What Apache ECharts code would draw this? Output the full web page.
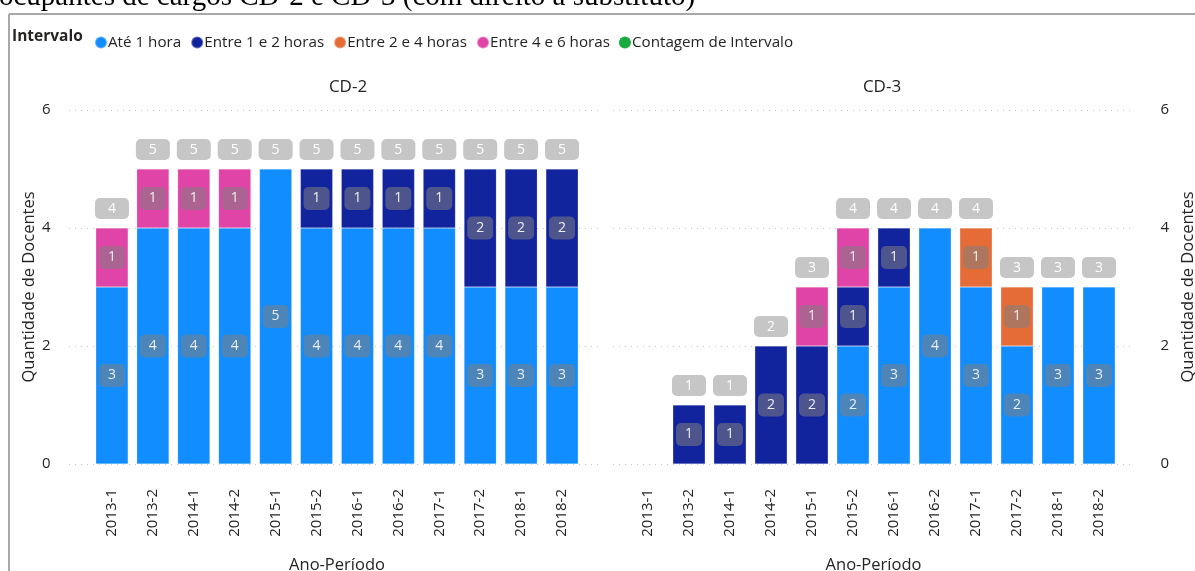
<!DOCTYPE html>
<html>
<head>
<meta charset="utf-8">
<script src="https://cdn.jsdelivr.net/npm/echarts@6/dist/echarts.min.js"></script>
<style>
html, body { margin: 0; padding: 0; background: #fff; }
#chart { width: 1195px; height: 571px; }
</style>
</head>
<body>
<div id="chart"></div>
<script>
// categories shared by both panels
let periods = ['2013-1', '2013-2', '2014-1', '2014-2', '2015-1', '2015-2', '2016-1', '2016-2', '2017-1', '2017-2', '2018-1', '2018-2'];
let intervalNames = ['Até 1 hora', 'Entre 1 e 2 horas', 'Entre 2 e 4 horas', 'Entre 4 e 6 horas'];
let totalName = 'Contagem de Intervalo';

// CD-2
let cd2Ate1 = [3, 4, 4, 4, 5, 4, 4, 4, 4, 3, 3, 3];
let cd2Entre1e2 = [0, 0, 0, 0, 0, 1, 1, 1, 1, 2, 2, 2];
let cd2Entre2e4 = [0, 0, 0, 0, 0, 0, 0, 0, 0, 0, 0, 0];
let cd2Entre4e6 = [1, 1, 1, 1, 0, 0, 0, 0, 0, 0, 0, 0];
let cd2Contagem = [4, 5, 5, 5, 5, 5, 5, 5, 5, 5, 5, 5];

// CD-3
let cd3Ate1 = [0, 0, 0, 0, 0, 2, 3, 4, 3, 2, 3, 3];
let cd3Entre1e2 = [0, 1, 1, 2, 2, 1, 1, 0, 0, 0, 0, 0];
let cd3Entre2e4 = [0, 0, 0, 0, 0, 0, 0, 0, 1, 1, 0, 0];
let cd3Entre4e6 = [0, 0, 0, 0, 1, 1, 0, 0, 0, 0, 0, 0];
let cd3Contagem = [0, 1, 1, 2, 3, 4, 4, 4, 4, 3, 3, 3];

let yMin = 0;
let yMax = 6;
let yStep = 2;

let colors = ['#118DFF', '#12239E', '#E66C37', '#E044A7'];
let totalColor = '#1AAB40';
let textColor = '#252423';
let font = 'Open Sans';

let plotTop = 110;
let plotHeight = 354;

let noZero = (arr) => arr.map((v) => (v === 0 ? null : v));

let innerLabel = {
	show: true,
	position: 'inside',
	color: '#EEEEEE',
	fontFamily: font,
	fontSize: 14,
	backgroundColor: 'rgba(128,128,128,0.55)',
	padding: [5, 9, 4, 9],
	borderRadius: 5,
};

let makeBars = (stack, axis, lists) => lists.map((list, i) => ({
	name: intervalNames[i],
	type: 'bar',
	stack: stack,
	xAxisIndex: axis,
	yAxisIndex: axis,
	barCategoryGap: '21%',
	color: colors[i],
	itemStyle: {color: colors[i], borderColor: 'rgba(255,255,255,0.35)', borderWidth: 0.5},
	label: innerLabel,
	data: noZero(list),
}));

let makeTotal = (axis, list) => ({
	name: totalName,
	type: 'line',
	xAxisIndex: axis,
	yAxisIndex: axis,
	color: totalColor,
	symbol: 'circle',
	symbolSize: 0,
	lineStyle: {opacity: 0},
	z: 5,
	label: {
		show: true,
		position: 'top',
		distance: 9,
		color: '#FFFFFF',
		fontFamily: font,
		fontSize: 14,
		backgroundColor: '#C6C6C6',
		padding: [4, 13, 3, 13],
		borderRadius: 5,
	},
	data: noZero(list),
});

let catAxis = (grid) => ({
	type: 'category',
	gridIndex: grid,
	data: periods,
	axisLine: {show: false},
	axisTick: {show: false},
	axisLabel: {rotate: 90, margin: 25, color: textColor, fontFamily: font, fontSize: 15},
	name: 'Ano-Período',
	nameLocation: 'middle',
	nameGap: 93,
	nameTextStyle: {color: textColor, fontFamily: font, fontSize: 16.5},
});

let valAxis = (grid, pos) => ({
	type: 'value',
	gridIndex: grid,
	position: pos,
	min: yMin,
	max: yMax,
	interval: yStep,
	axisLine: {show: false},
	axisTick: {show: false},
	splitLine: {show: false},
	axisLabel: {margin: 41, color: textColor, fontFamily: font, fontSize: 15},
	name: 'Quantidade de Docentes',
	nameLocation: 'middle',
	nameGap: pos === 'left' ? 53 : 60,
	nameTextStyle: {color: textColor, fontFamily: font, fontSize: 16.5},
});

// wider background grids only carry the dotted gridlines
let lineAxis = (grid) => ({
	type: 'value',
	gridIndex: grid,
	min: yMin,
	max: yMax,
	interval: yStep,
	axisLine: {show: false},
	axisTick: {show: false},
	axisLabel: {show: false},
	splitLine: {show: true, lineStyle: {color: '#C4C4C4', width: 1, type: [1, 5]}},
});

let makeGrid = (left, width) => ({
	left: left,
	width: width,
	top: plotTop,
	height: plotHeight,
	outerBoundsMode: 'none',
});

let chart = echarts.init(document.getElementById('chart'));

let panelTitle = (text, x) => ({
	text: text,
	left: x,
	top: 74,
	textAlign: 'center',
	textStyle: {color: textColor, fontFamily: font, fontSize: 17, fontWeight: 'normal'},
});

chart.setOption({
	animation: false,
	title: [panelTitle('CD-2', 343), panelTitle('CD-3', 877)],
	legend: {
		left: 89,
		top: 30,
		icon: 'circle',
		itemWidth: 12,
		itemHeight: 12,
		itemGap: 9,
		textStyle: {color: textColor, fontFamily: font, fontSize: 15.2, padding: [0, 0, 0, -4]},
		data: intervalNames.concat([totalName]).map((name, i) => ({
			name: name,
			itemStyle: {color: i < colors.length ? colors[i] : totalColor, opacity: 1},
		})),
	},
	graphic: [
		{type: 'text', left: -1, top: -17, style: {text: 'ocupantes de cargos CD-2 e CD-3 (com direito a substituto)', fill: '#000', font: '29px "Liberation Serif"'}},
		{type: 'line', shape: {x1: 9, y1: 14, x2: 1195, y2: 14}, style: {stroke: '#A8A8A8', lineWidth: 2}},
		{type: 'line', shape: {x1: 9, y1: 14, x2: 9, y2: 571}, style: {stroke: '#A8A8A8', lineWidth: 2}},
		{type: 'text', left: 12, top: 29, style: {text: 'Intervalo', fill: textColor, font: 'bold 15.5px "Open Sans"'}},
	],
	grid: [
		makeGrid(91.5, 491),
		makeGrid(627.5, 492),
		makeGrid(69, 533),
		makeGrid(613, 522),
	],
	xAxis: [
		catAxis(0),
		catAxis(1),
		{type: 'value', gridIndex: 2, show: false, min: 0, max: 1},
		{type: 'value', gridIndex: 3, show: false, min: 0, max: 1},
	],
	yAxis: [
		valAxis(0, 'left'),
		valAxis(1, 'right'),
		lineAxis(2),
		lineAxis(3),
	],
	series: [
		...makeBars('cd2', 0, [cd2Ate1, cd2Entre1e2, cd2Entre2e4, cd2Entre4e6]),
		makeTotal(0, cd2Contagem),
		...makeBars('cd3', 1, [cd3Ate1, cd3Entre1e2, cd3Entre2e4, cd3Entre4e6]),
		makeTotal(1, cd3Contagem),
	],
});
</script>
</body>
</html>
